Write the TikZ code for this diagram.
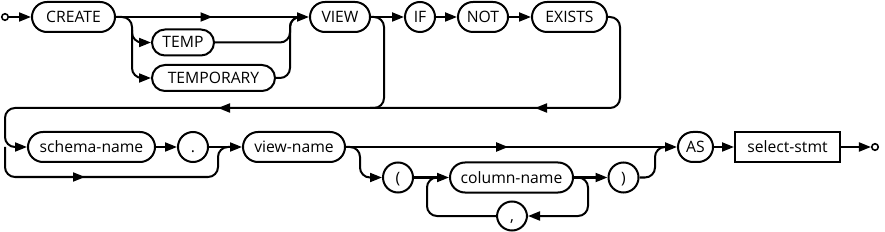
\documentclass[tikz,border=0pt]{standalone}
\usepackage{fontspec}
\setmainfont{Open Sans}
\usetikzlibrary{arrows.meta,decorations.markings}
\begin{document}
\begin{tikzpicture}[x=1pt,y=-1pt,
  >={Triangle[length=12pt,width=9pt]},
  ln/.style={line width=2pt, rounded corners=10pt},
  midarr/.style={postaction={decorate}, decoration={markings, mark=at position #1 with {\arrow{>}}}},
  term/.style={draw, line width=2pt, rounded corners=15pt, minimum height=30pt, inner sep=0pt,
    text height=11pt, text depth=0pt, font=\fontsize{15.7}{18}\selectfont},
  smallterm/.style={term, rounded corners=13pt, minimum height=26pt},
  nonterm/.style={draw, line width=2pt, minimum height=30pt, inner sep=0pt,
    text height=11pt, text depth=0pt, font=\fontsize{15.7}{18}\selectfont},
  endpt/.style={draw, circle, line width=1.6pt, minimum size=6.5pt, inner sep=0pt, fill=white}
]
\useasboundingbox (0,0) rectangle (885,232);

% row 1
\node[endpt] (start) at (5,17) {};
\node[term, minimum width=83pt] (create) at (73.5,17) {CREATE};
\node[smallterm, minimum width=62pt] (temp) at (183,42.5) {TEMP};
\node[smallterm, minimum width=123pt] (temporary) at (213.5,78) {TEMPORARY};
\node[term, minimum width=60pt] (view) at (340,17) {VIEW};
\node[term, minimum width=30pt] (if) at (420,17) {IF};
\node[term, minimum width=50pt] (not) at (483,17) {NOT};
\node[term, minimum width=75pt] (exists) at (569.5,17) {EXISTS};

% row 2
\node[term, minimum width=127pt] (schema) at (91.5,147) {schema-name};
\node[term, minimum width=30pt] (dot) at (193,147) {.};
\node[term, minimum width=102pt] (vname) at (294,147) {view-name};
\node[term, minimum width=30pt] (lp) at (398,177.5) {(};
\node[term, minimum width=123pt] (cname) at (511.5,177.5) {column-name};
\node[term, minimum width=30pt] (rp) at (623.5,177.5) {)};
\node[term, minimum width=30pt, minimum height=29pt] (comma) at (512,216) {,};
\node[term, minimum width=35pt] (as) at (695.5,147) {AS};
\node[nonterm, minimum width=105pt] (sel) at (787.5,147) {select-stmt};
\node[endpt] (fin) at (875,147) {};

% coordinates
\coordinate (bA) at (132,17);
\coordinate (bB) at (132,78);
\coordinate (bC) at (132,30);
\coordinate (bD) at (132,42.5);
\coordinate (jA) at (290,42.5);
\coordinate (jB) at (290,78);
\coordinate (jT) at (290,17);
\coordinate (jE) at (302,17);
\coordinate (vA) at (384,17);
\coordinate (vB) at (384,108);
\coordinate (vC) at (370,108);
\coordinate (eA) at (620,17);
\coordinate (eB) at (620,108);
\coordinate (rL) at (5,108);
\coordinate (rM) at (5,147);
\coordinate (rN) at (5,177);
\coordinate (rO) at (218,177);
\coordinate (rP) at (218,147);
\coordinate (rQ) at (230,147);
\coordinate (pA) at (360,147);
\coordinate (pB) at (360,177.5);
\coordinate (lA) at (427,177.5);
\coordinate (lB) at (427,216);
\coordinate (lC) at (437,177.5);
\coordinate (lD) at (588,177.5);
\coordinate (lE) at (588,216);
\coordinate (qA) at (655,177.5);
\coordinate (qB) at (655,147);
\coordinate (qC) at (667,147);
% marker spans (inside straight runs)
\coordinate (m1a) at (555,108);
\coordinate (m1b) at (515,108);
\coordinate (m2a) at (238,108);
\coordinate (m2b) at (198,108);
\coordinate (m3a) at (65,177);
\coordinate (m3b) at (105,177);

% row 1 connectors
\draw[ln,->] (start) -- (create);
\draw[ln,->,midarr=0.5] (create.east) -- (view.west);
\draw[ln,->] (create.east) -- (bA) -- (bB) -- (temporary.west);
\draw[ln,->] (bC) -- (bD) -- (temp.west);
\draw[ln] (temp.east) -- (jA) -- (jT) -- (jE);
\draw[ln] (temporary.east) -- (jB) -- (jT) -- (jE);
\draw[ln,->] (view) -- (if);
\draw[ln,->] (if) -- (not);
\draw[ln,->] (not) -- (exists);
\draw[ln] (view.east) -- (vA) -- (vB) -- (vC);
\draw[ln,->] (exists.east) -- (eA) -- (eB) -- (rL) -- (rM) -- (schema.west);
\draw[line width=2pt,midarr=0.5] (m1a) -- (m1b);
\draw[line width=2pt,midarr=0.5] (m2a) -- (m2b);

% row 2 connectors
\draw[ln] (rM) -- (rN) -- (rO) -- (rP) -- (rQ);
\draw[line width=2pt,midarr=0.5] (m3a) -- (m3b);
\draw[ln,->] (schema) -- (dot);
\draw[ln,->] (dot) -- (vname);
\draw[ln,->,midarr=0.49] (vname.east) -- (as.west);
\draw[ln,->] (vname.east) -- (pA) -- (pB) -- (lp.west);
\draw[ln,->] (lp) -- (cname);
\draw[ln,->] (cname) -- (rp);
\draw[ln,->] (cname.east) -- (lD) -- (lE) -- (comma.east);
\draw[ln] (comma.west) -- (lB) -- (lA) -- (lC);
\draw[ln] (rp.east) -- (qA) -- (qB) -- (qC);
\draw[ln,->] (as) -- (sel);
\draw[ln,->] (sel) -- (fin);
\end{tikzpicture}
\end{document}
